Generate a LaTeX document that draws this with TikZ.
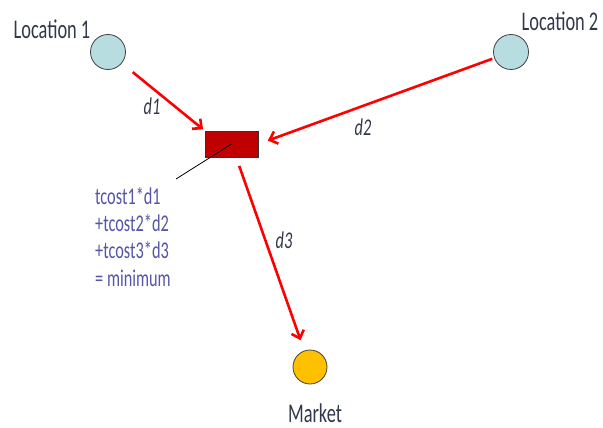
\documentclass[tikz,border=0pt]{standalone}
\usepackage{fontspec}
\setmainfont{Carlito}[FakeStretch=0.68]
\usetikzlibrary{arrows.meta}
\definecolor{locfill}{RGB}{183,221,224}
\definecolor{mktfill}{RGB}{255,192,0}
\definecolor{facred}{RGB}{192,0,0}
\definecolor{labtext}{RGB}{50,55,75}
\definecolor{formtext}{RGB}{85,85,165}
\tikzset{
  site/.style={circle, draw=black!75, line width=0.8pt, minimum size=35pt, inner sep=0pt},
  flow/.style={draw=red, line width=2.6pt, -{Straight Barb[length=7pt,width=13pt,line width=2.6pt]}},
  lab/.style={text=labtext, font=\fontsize{27}{30}\selectfont, inner sep=0pt},
  dlab/.style={text=labtext, font=\fontsize{24}{28}\selectfont\itshape, inner sep=0pt},
  formula/.style={text=formtext, font=\fontsize{24}{27.3}\selectfont, align=left, inner sep=0pt}
}
\begin{document}
\begin{tikzpicture}[x=1pt,y=-1pt]
\useasboundingbox (0,0) rectangle (603,428);
\node[site, fill=locfill] (loc1) at (108,52) {};
\node[site, fill=locfill] (loc2) at (511,52) {};
\node[site, fill=mktfill, minimum size=34pt] (market) at (310,367) {};
\node[draw=black!80, line width=0.8pt, fill=facred, minimum width=53pt, minimum height=26pt, inner sep=0pt] (fac) at (231.5,144) {};
\node[lab] (t1) at (52,29) {Location 1};
\node[lab] (t2) at (560,21) {Location 2};
\node[lab] (t3) at (315,413) {Market};
\node[dlab] (l1) at (152,106) {d1};
\node[dlab] (l2) at (363,127) {d2};
\node[dlab] (l3) at (284,240) {d3};
\draw[flow, shorten <=14pt, shorten >=2pt] (loc1) -- (fac.north west);
\draw[flow, shorten <=2pt, shorten >=10pt] (loc2) -- (fac.east);
\draw[flow, shorten <=9pt, shorten >=11pt] (fac) -- (market);
\coordinate (lead) at (176,179);
\draw[black, line width=0.8pt] (fac.center) -- (lead);
\node[formula, anchor=north west] (form) at (95,187) {tcost1*d1\\+tcost2*d2\\+tcost3*d3\\= minimum};
\end{tikzpicture}
\end{document}
